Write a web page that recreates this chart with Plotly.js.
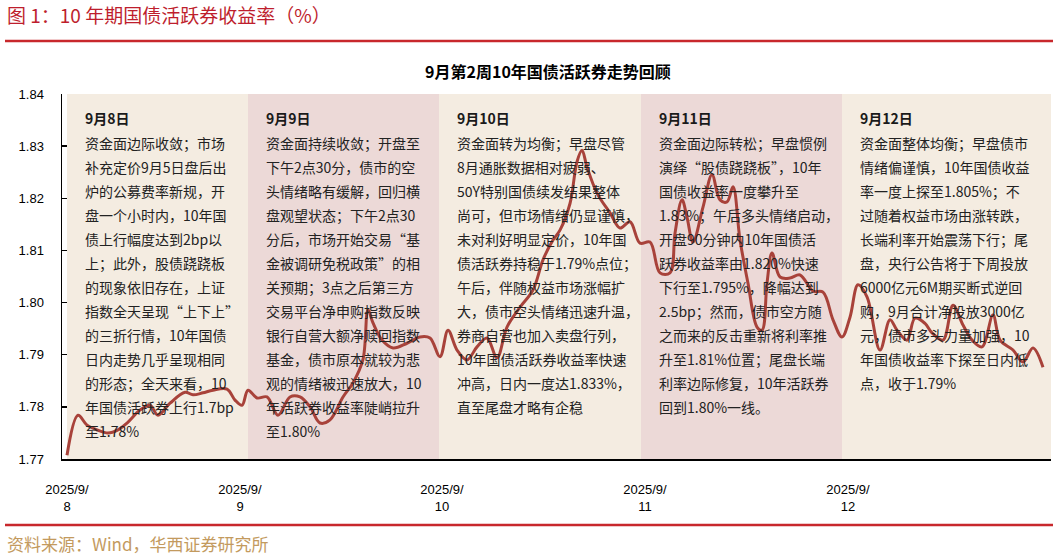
<!DOCTYPE html>
<html>
<head>
<meta charset="utf-8">
<script src="https://cdn.plot.ly/plotly-3.0.1.min.js"></script>
<style>
  html, body { margin: 0; padding: 0; background: #fff; }
  #chart { width: 1053px; height: 556px; }
</style>
</head>
<body>
<div id="chart"></div>
<script>
/* 10Y active CGB yield, week 2 of September — intraday trace with daily notes. */

// intraday sample index (5 samples per ~25px of the original time axis)
const tIdx = [
  0, 2.2, 4, 6, 8.2, 10.2, 12, 14.6, 16.6, 18.2, 20.6, 23.6, 25.2, 27.2, 29.2, 32, 33.6, 35, 36.2,
  38, 40, 42.2, 44.6, 46.6, 48.6, 50.6, 52.6, 55.2, 57.2, 59.2, 60.2, 61.2, 63, 65.2, 68, 70.6, 72.6, 74.6,
  76.2, 78, 80, 82, 84, 86, 88, 90.6, 93.2, 95.2, 97.2, 98.6, 100.6, 102, 103, 104, 106, 108.6, 110.6, 112.6, 114.6,
  116.6, 118.6, 120.6, 121.6, 123, 124, 125.2, 127.2, 129, 130.6, 132, 133.2, 134.6, 136.2, 138, 139, 140, 141,
  142.6, 144.6, 146.6, 149.2, 151.2, 153.2, 155,
  156.6, 158.2, 160, 162.6, 164.6, 166, 168, 169.6, 171.6, 173, 175.2, 177.2, 179.2, 181, 183, 185.2, 186.6,
  189.2, 191.2, 193.2, 195.2
];
const yieldPct = [
  1.7707, 1.7784, 1.7765, 1.7756, 1.7750, 1.7756, 1.7769, 1.7794, 1.7803, 1.7784, 1.7807, 1.7828, 1.7823, 1.7827, 1.7832, 1.7834, 1.7813, 1.7803, 1.7832,
  1.7817, 1.7819, 1.7784, 1.7819, 1.7819, 1.7800, 1.7769, 1.7775, 1.7819, 1.7846, 1.7891, 1.7986, 1.7961, 1.7928, 1.7913, 1.7922, 1.7934, 1.7932, 1.7896,
  1.7947, 1.7909, 1.7890, 1.7915, 1.7932, 1.7894, 1.7953, 1.7991, 1.8024, 1.8082, 1.8120, 1.8139, 1.8190, 1.8270, 1.8292, 1.8260, 1.8210, 1.8172, 1.8143, 1.8155, 1.8114,
  1.8116, 1.8057, 1.8057, 1.8133, 1.8197, 1.8164, 1.8116, 1.8183, 1.8245, 1.8197, 1.8193, 1.8222, 1.8120, 1.8037, 1.7953, 1.7947, 1.8037, 1.8095,
  1.8049, 1.8047, 1.8053, 1.8022, 1.8020, 1.7967, 1.7934,
  1.7972, 1.8034, 1.8011, 1.7909, 1.7967, 1.7947, 1.7928, 1.7970, 1.7960, 1.7942, 1.7928, 1.7995, 1.7957, 1.7928, 1.7915, 1.7976, 1.7928,
  1.7909, 1.7886, 1.7913, 1.7876
];

// day boundaries on the sample index, tick positions and their labels
const dayStart = [0, 36.2, 74.4, 114.8, 155, 196.8];
const dayTickPos = [0, 34.6, 75, 115.6, 156.2];
const dayTicks = ['2025/9/<br>8', '2025/9/<br>9', '2025/9/<br>10', '2025/9/<br>11', '2025/9/<br>12'];
const dayTitles = ['9月8日', '9月9日', '9月10日', '9月11日', '9月12日'];
const bandColors = ['#f4ece1', '#ecd9d7', '#f4ece1', '#ecd9d7', '#f4ece1'];

const notes = [
  ['资金面边际收敛；市场', '补充定价9月5日盘后出', '炉的公募费率新规，开', '盘一个小时内，10年国',
   '债上行幅度达到2bp以', '上；此外，股债跷跷板', '的现象依旧存在，上证', '指数全天呈现“上下上”',
   '的三折行情，10年国债', '日内走势几乎呈现相同', '的形态；全天来看，10', '年国债活跃券上行1.7bp', '至1.78%'],
  ['资金面持续收敛；开盘至', '下午2点30分，债市的空', '头情绪略有缓解，回归横', '盘观望状态；下午2点30',
   '分后，市场开始交易“基', '金被调研免税政策”的相', '关预期；3点之后第三方', '交易平台净申购指数反映',
   '银行自营大额净赎回指数', '基金，债市原本就较为悲', '观的情绪被迅速放大，10', '年活跃券收益率陡峭拉升', '至1.80%'],
  ['资金面转为均衡；早盘尽管', '8月通胀数据相对疲弱、', '50Y特别国债续发结果整体', '尚可，但市场情绪仍显谨慎，',
   '未对利好明显定价，10年国', '债活跃券持稳于1.79%点位；', '午后，伴随权益市场涨幅扩', '大，债市空头情绪迅速升温，',
   '券商自营也加入卖盘行列，', '10年国债活跃券收益率快速', '冲高，日内一度达1.833%，', '直至尾盘才略有企稳'],
  ['资金面边际转松；早盘惯例', '演绎“股债跷跷板”，10年', '国债收益率一度攀升至', '1.83%；午后多头情绪启动，',
   '开盘90分钟内10年国债活', '跃券收益率由1.820%快速', '下行至1.795%，降幅达到', '2.5bp；然而，债市空方随',
   '之而来的反击重新将利率推', '升至1.81%位置；尾盘长端', '利率边际修复，10年活跃券', '回到1.80%一线。'],
  ['资金面整体均衡；早盘债市', '情绪偏谨慎，10年国债收益', '率一度上探至1.805%；不', '过随着权益市场由涨转跌，',
   '长端利率开始震荡下行；尾', '盘，央行公告将于下周投放', '6000亿元6M期买断式逆回', '购，9月合计净投放3000亿',
   '元，债市多头力量加强，10', '年国债收益率下探至日内低', '点，收于1.79%']
];

const W = 1053, H = 556;
const M = { l: 62, r: 2, t: 94, b: 97 };
const PW = W - M.l - M.r, PH = H - M.t - M.b;
const CJK = '"Noto Sans CJK SC", "Noto Sans", sans-serif';
const LAT = '"Liberation Sans", Arial, sans-serif';

// pixel → paper helpers for the page furniture around the plot
function pxX(px) { return (px - M.l) / PW; }
function pxY(py) { return (H - M.b - py) / PH; }

const shapes = [];
for (let i = 0; i < 5; i++) {
  shapes.push({
    type: 'rect', layer: 'below', xref: 'x', yref: 'paper',
    x0: dayStart[i], x1: dayStart[i + 1], y0: 0, y1: 1,
    fillcolor: bandColors[i], line: { width: 0 },
  });
}
[41, 525].forEach(py => shapes.push({
  type: 'line', xref: 'paper', yref: 'paper',
  x0: pxX(5), x1: pxX(1053), y0: pxY(py), y1: pxY(py),
  line: { color: '#c8282c', width: 2.5 },
}));

const annotations = [];
for (let i = 0; i < 5; i++) {
  annotations.push({
    xref: 'x', yref: 'paper', x: dayStart[i], xshift: 16, xanchor: 'left',
    y: pxY(118), yanchor: 'middle', showarrow: false,
    text: '<b>' + dayTitles[i] + '</b>',
    font: { family: CJK, size: 14, color: '#1a1a1a' },
  });
  notes[i].forEach((line, j) => annotations.push({
    xref: 'x', yref: 'paper', x: dayStart[i], xshift: 16, xanchor: 'left',
    y: pxY(143 + 24 * j), yanchor: 'middle', showarrow: false,
    text: line, font: { family: CJK, size: 14, color: '#222' },
  }));
}
annotations.push({
  xref: 'paper', yref: 'paper', x: pxX(5), y: pxY(15), xanchor: 'left', yanchor: 'middle',
  showarrow: false, text: '图 1：10 年期国债活跃券收益率（%）',
  font: { family: CJK, size: 19, color: '#be1e2d' },
});
annotations.push({
  xref: 'paper', yref: 'paper', x: pxX(5), y: pxY(543), xanchor: 'left', yanchor: 'middle',
  showarrow: false, text: '资料来源：Wind，华西证券研究所',
  font: { family: CJK, size: 17, color: '#c39a5e' },
});

const trace = {
  type: 'scatter', mode: 'lines', x: tIdx, y: yieldPct,
  line: { color: '#a8423a', width: 3, shape: 'spline', smoothing: 1 },
  hoverinfo: 'skip', showlegend: false,
};

const layout = {
  width: W, height: H,
  margin: M,
  paper_bgcolor: '#fff', plot_bgcolor: '#fff',
  font: { family: LAT, size: 13, color: '#000' },
  title: {
    text: '<b>9月第2周10年国债活跃券走势回顾</b>',
    font: { family: CJK, size: 16, color: '#000' },
    xref: 'paper', x: pxX(548), xanchor: 'center',
    yref: 'container', y: 1 - 72 / H, yanchor: 'middle',
  },
  xaxis: {
    range: [-1, 196.8], tickmode: 'array',
    tickvals: dayTickPos, ticktext: dayTicks,
    ticks: '', showgrid: false, zeroline: false,
    showline: true, linecolor: '#000', linewidth: 1.5,
    tickfont: { family: LAT, size: 13, color: '#000' },
    ticklabelstandoff: 18,
  },
  yaxis: {
    range: [1.77, 1.84], dtick: 0.01, tick0: 1.77, tickformat: '.2f',
    ticks: 'inside', ticklen: 5, tickcolor: '#000', tickwidth: 1.5,
    showgrid: false, zeroline: false,
    showline: true, linecolor: '#000', linewidth: 1.5,
    tickfont: { family: LAT, size: 13, color: '#000' },
    ticklabelstandoff: 14,
  },
  shapes, annotations,
  showlegend: false,
};

Plotly.newPlot('chart', [trace], layout, { staticPlot: true, displayModeBar: false });
</script>
</body>
</html>
